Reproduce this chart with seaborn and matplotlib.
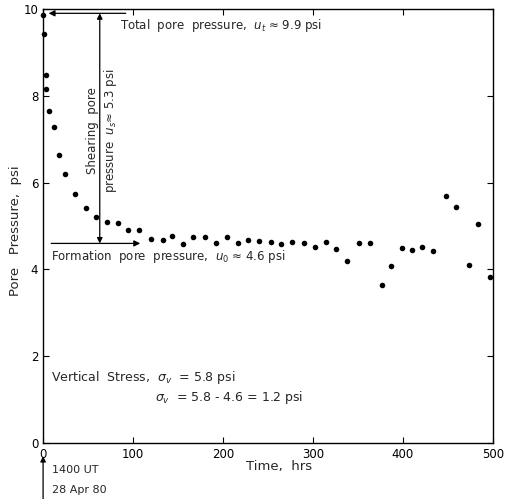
import pandas as pd
import matplotlib
matplotlib.use("Agg")
import matplotlib.pyplot as plt
import seaborn as sns

# time after 1400 UT 28 Apr 80 (hrs) and measured pore pressure (psi)
time_hrs = [0, 1, 3, 3, 7, 12, 18, 24, 35, 48, 59, 71, 83, 94, 107, 120, 133, 143,
            155, 167, 180, 192, 204, 217, 228, 240, 253, 265, 277, 290, 302, 315,
            326, 338, 351, 363, 377, 387, 399, 410, 421, 434, 448, 459, 473, 484, 497]
pore_psi = [9.85, 9.42, 8.47, 8.16, 7.66, 7.27, 6.64, 6.21, 5.74, 5.42, 5.21, 5.09,
            5.08, 4.91, 4.91, 4.70, 4.68, 4.78, 4.59, 4.74, 4.74, 4.62, 4.74, 4.60,
            4.68, 4.65, 4.64, 4.58, 4.64, 4.62, 4.52, 4.64, 4.48, 4.19, 4.62, 4.62,
            3.64, 4.09, 4.50, 4.45, 4.52, 4.42, 5.69, 5.45, 4.10, 5.04, 3.82]

u_total = 9.9
u_form = 4.6
x_ticks = [0, 100, 200, 300, 400, 500]
y_ticks = [0, 2, 4, 6, 8, 10]

df = pd.DataFrame({"Time": time_hrs, "Pore": pore_psi})

sns.set_style("ticks")
plt.rcParams["font.family"] = ["DejaVu Sans"]
plt.rcParams["mathtext.fontset"] = "dejavusans"

fig = plt.figure(figsize=(5.07, 4.99), dpi=100)
ax = fig.add_axes([0.085, 0.112, 0.887, 0.870])

sns.scatterplot(data=df, x="Time", y="Pore", color="black", s=16,
                edgecolor="black", linewidth=0, ax=ax, clip_on=False, zorder=3)

ax.set_xlim(0, 500)
ax.set_ylim(0, 10)
ax.set_xticks(x_ticks)
ax.set_yticks(y_ticks)
ax.tick_params(direction="in", top=True, right=True, length=4, width=0.8,
               labelsize=8.5, colors="black")
for sp in ax.spines.values():
    sp.set_visible(True)
    sp.set_linewidth(1.0)
    sp.set_color("black")

ax.set_xlabel("Time,  hrs", fontsize=9.5)
ax.xaxis.set_label_coords(0.524, -0.038)
ax.set_ylabel("Pore   Pressure,  psi", fontsize=9.5)
ax.yaxis.set_label_coords(-0.048, 0.49)

fs = 8.5
# total pore pressure arrow
ax.annotate("", xy=(3, u_total), xytext=(95, u_total),
            arrowprops=dict(arrowstyle="-|>", color="black", lw=0.9,
                            mutation_scale=9))
ax.text(85, 9.62, r"Total  pore  pressure,  $u_t$ ≈ 9.9 psi", fontsize=fs,
        va="center", ha="left")

# shearing pore pressure double arrow
ax.annotate("", xy=(63, u_total), xytext=(63, u_form),
            arrowprops=dict(arrowstyle="<|-|>", color="black", lw=0.9,
                            mutation_scale=8, shrinkA=0, shrinkB=0))
ax.text(55, 7.2, "Shearing  pore", rotation=90, fontsize=fs,
        va="center", ha="center")
ax.text(75, 7.2, r"pressure  $u_s$≈ 5.3 psi", rotation=90, fontsize=fs,
        va="center", ha="center")

# formation pore pressure arrow
ax.annotate("", xy=(108, u_form), xytext=(9, u_form),
            arrowprops=dict(arrowstyle="-|>", color="black", lw=0.9,
                            mutation_scale=9, shrinkA=0, shrinkB=0))
ax.text(9, 4.3, r"Formation  pore  pressure,  $u_0$ ≈ 4.6 psi", fontsize=fs,
        va="center", ha="left")

# vertical stress notes
ax.text(9, 1.52, r"Vertical  Stress,  $\sigma_v$  = 5.8 psi", fontsize=9,
        va="center", ha="left")
ax.text(124, 1.04, r"$\sigma_v$  = 5.8 - 4.6 = 1.2 psi", fontsize=9,
        va="center", ha="left")

# start time marker below the axis
ax.annotate("", xy=(0, -0.3), xytext=(0, -1.35),
            xycoords="data", textcoords="data", annotation_clip=False,
            arrowprops=dict(arrowstyle="-|>", color="black", lw=0.9,
                            mutation_scale=8, shrinkA=0, shrinkB=0))
ax.text(10, -0.62, "1400 UT", fontsize=8, va="center", ha="left", clip_on=False)
ax.text(10, -1.08, "28 Apr 80", fontsize=8, va="center", ha="left", clip_on=False)

fig.savefig("out.png", dpi=100)
